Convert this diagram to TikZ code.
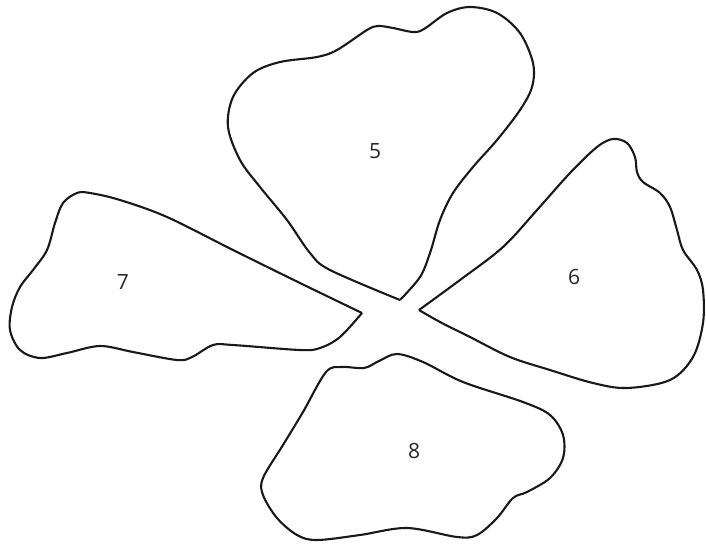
\documentclass[tikz,border=0pt]{standalone}
\usepackage{fontspec}
\setmainfont{Open Sans}
\begin{document}
\begin{tikzpicture}[x=1pt,y=-1pt,
  petal/.style={draw=black!90, line width=2.1pt, line join=round},
  lbl/.style={font=\fontsize{21}{25}\selectfont, text=black!85, inner sep=0pt}]
\useasboundingbox (0,0) rectangle (706,544);
% petal 5
\draw[petal] plot[smooth, tension=0.55] coordinates {
 (400,300) (330,270) (310,253) (287,220) (260,187) (240,160) (228,127) (233,97)
 (253,73) (280,62) (317,57) (337,50) (367,30) (378,26) (393,28) (413,32) (424,29)
 (447,13) (470,7) (497,13) (520,33) (533,63) (532,87) (520,110) (497,140) (473,167)
 (453,193) (440,220) (430,253) (420,277) (400,300)};
% petal 6
\draw[petal] plot[smooth, tension=0.55] coordinates {
 (419,310) (460,280) (503,247) (537,210) (570,173) (597,147) (613,139) (627,143)
 (635,157) (637,172) (643,182) (660,193) (670,207) (677,230) (683,250) (697,270)
 (703,290) (703,323) (693,357) (670,380) (627,388) (593,383) (550,370) (510,357)
 (470,337) (440,322) (419,310)};
% petal 7
\draw[petal] plot[smooth, tension=0.55] coordinates {
 (362,313) (300,283) (233,250) (167,217) (120,200) (90,193) (77,193) (63,203)
 (55,223) (47,250) (33,270) (20,287) (12,307) (10,330) (20,350) (40,358) (67,353)
 (100,346) (133,352) (177,360) (192,357) (213,345) (233,345) (300,350) (320,348)
 (340,337) (362,313)};
% petal 8
\draw[petal] plot[smooth cycle, tension=0.55] coordinates {
 (397,354) (423,362) (463,382) (523,402) (550,415) (563,435) (563,458) (550,478)
 (527,492) (513,498) (497,518) (477,535) (457,537) (407,528) (360,535) (317,540)
 (297,535) (277,518) (263,495) (263,478) (283,445) (303,412) (326,372) (342,367)
 (364,368) (379,361)};
\node[lbl] (l5) at (375,151) {5};
\node[lbl] (l6) at (574,277) {6};
\node[lbl] (l7) at (123,282) {7};
\node[lbl] (l8) at (414,451) {8};
\end{tikzpicture}
\end{document}
